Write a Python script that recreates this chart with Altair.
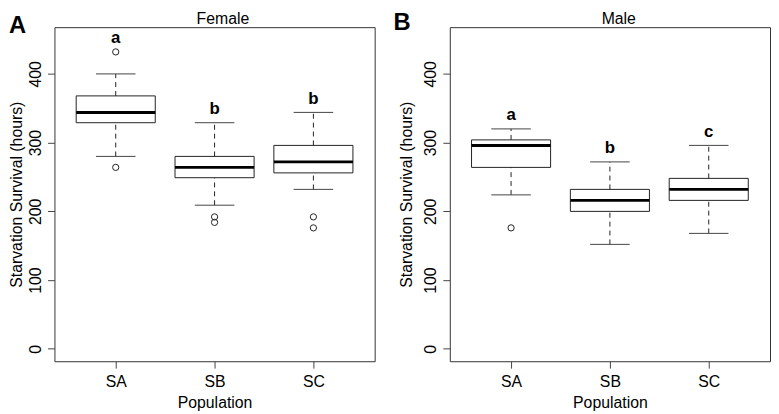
import altair as alt
import pandas as pd

# ---------------- data ----------------
populations = ["SA", "SB", "SC"]
pop_index = [1, 2, 3]

female_lower = [280, 209, 232]
female_q1 = [329, 249, 256]
female_median = [344, 264, 272]
female_q3 = [368, 280, 296]
female_upper = [400, 329, 344]
female_outlier_pop = ["SA", "SA", "SB", "SB", "SC", "SC"]
female_outlier_val = [432, 264, 192, 184, 192, 176]
female_letters = ["a", "b", "b"]

male_lower = [224, 152, 168]
male_q1 = [264, 200, 216]
male_median = [296, 216, 232]
male_q3 = [304, 232, 248]
male_upper = [320, 272, 296]
male_outlier_pop = ["SA"]
male_outlier_val = [176]
male_letters = ["a", "b", "c"]

y_ticks = [0, 100, 200, 300, 400]

# ---------------- layout / style ----------------
W, H = 324, 338
X_DOMAIN = [0.38, 3.62]
Y_DOMAIN = [-18, 468]
FONT = "Liberation Sans"
INK = "#222222"


def panel(title, letter, lower, q1, med, q3, upper, opop, oval, letters,
          title_x, letter_x, letter_y, ytitle_x):
    idx = {p: i for p, i in zip(populations, pop_index)}
    box = pd.DataFrame({"pop": populations, "i": pop_index, "lower": lower,
                        "q1": q1, "median": med, "q3": q3, "upper": upper})
    box["left"] = box["i"] - 0.4
    box["right"] = box["i"] + 0.4
    box["cl"] = box["i"] - 0.2
    box["cr"] = box["i"] + 0.2
    out = pd.DataFrame({"pop": opop, "val": oval})
    out["i"] = out["pop"].map(idx)
    tops = [max([u] + [v for p, v in zip(opop, oval) if p == pp])
            for pp, u in zip(populations, upper)]
    lab = pd.DataFrame({"i": pop_index, "letter": letters,
                        "y": [t + 20 for t in tops]})

    xs = alt.Scale(domain=X_DOMAIN, nice=False, zero=False)
    ys = alt.Scale(domain=Y_DOMAIN, nice=False, zero=False)
    x_axis = alt.Axis(values=pop_index,
                      labelExpr="['', 'SA', 'SB', 'SC'][datum.value]",
                      title="Population", domain=False, grid=False,
                      tickSize=7, tickColor="#444444", labelFontSize=16,
                      labelPadding=6, labelBaseline="top", labelAlign="center",
                      labelAngle=0, labelFlush=False, labelOverlap=False,
                      titleFontSize=16, titleFontWeight="normal",
                      titleX=W / 2, titleY=47, titleBaseline="alphabetic",
                      titleAlign="center")
    y_axis = alt.Axis(values=y_ticks, title="Starvation Survival (hours)",
                      domain=False, grid=False, tickSize=7,
                      tickColor="#444444", labelAngle=270,
                      labelAlign="center", labelBaseline="alphabetic",
                      labelPadding=7, labelFontSize=16, labelFlush=False,
                      labelOverlap=False, titleFontSize=16,
                      titleFontWeight="normal", titleAngle=270,
                      titleX=ytitle_x, titleY=H / 2, titleAlign="center",
                      titleBaseline="alphabetic")

    def X(f):
        return alt.X(f, type="quantitative", scale=xs, axis=x_axis)

    def Y(f):
        return alt.Y(f, type="quantitative", scale=ys, axis=y_axis)

    base = alt.Chart(box)
    whisk_up = base.mark_rule(strokeDash=[5, 4], color=INK, strokeWidth=1).encode(
        x=X("i"), y=Y("q3"), y2="upper")
    whisk_lo = base.mark_rule(strokeDash=[5, 4], color=INK, strokeWidth=1).encode(
        x=X("i"), y=Y("lower"), y2="q1")
    cap_up = base.mark_rule(color="#444444", strokeWidth=1).encode(
        x=X("cl"), x2="cr", y=Y("upper"))
    cap_lo = base.mark_rule(color="#444444", strokeWidth=1).encode(
        x=X("cl"), x2="cr", y=Y("lower"))
    rect = base.mark_rect(fill="white", stroke=INK, strokeWidth=1).encode(
        x=X("left"), x2="right", y=Y("q1"), y2="q3")
    median = base.mark_rule(color="black", strokeWidth=3).encode(
        x=X("left"), x2="right", y=Y("median"))
    pts = alt.Chart(out).mark_point(shape="circle", filled=False, size=40,
                                    color=INK, strokeWidth=1, opacity=1).encode(
        x=X("i"), y=Y("val"))
    letters_t = alt.Chart(lab).mark_text(fontSize=17, fontWeight="bold",
                                         baseline="middle", align="center",
                                         font=FONT, color="black").encode(
        x=X("i"), y=Y("y"), text="letter:N")
    title_t = alt.Chart(pd.DataFrame({"t": [title]})).mark_text(
        fontSize=16, baseline="alphabetic", align="center", font=FONT,
        color="black").encode(x=alt.value(title_x), y=alt.value(-3), text="t:N")
    letter_t = alt.Chart(pd.DataFrame({"t": [letter]})).mark_text(
        fontSize=24, fontWeight="bold", baseline="alphabetic", align="left",
        font=FONT, color="black").encode(
        x=alt.value(letter_x), y=alt.value(letter_y), text="t:N")

    return alt.layer(rect, whisk_up, whisk_lo, cap_up, cap_lo, median, pts,
                     letters_t, title_t, letter_t).properties(width=W, height=H)


left = panel("Female", "A", female_lower, female_q1, female_median, female_q3,
             female_upper, female_outlier_pop, female_outlier_val,
             female_letters, title_x=170.5, letter_x=-46, letter_y=6,
             ytitle_x=-33)
right = panel("Male", "B", male_lower, male_q1, male_median, male_q3,
              male_upper, male_outlier_pop, male_outlier_val, male_letters,
              title_x=171, letter_x=-57, letter_y=3, ytitle_x=-39)

chart = alt.hconcat(left, right, spacing=76, bounds="flush").properties(
    padding=0
).configure_view(stroke="#333333", strokeWidth=1).configure_axis(
    labelFont=FONT, titleFont=FONT, labelColor="black", titleColor="black"
)

chart.save("out.html", embed_options={"renderer": "svg", "actions": False})
